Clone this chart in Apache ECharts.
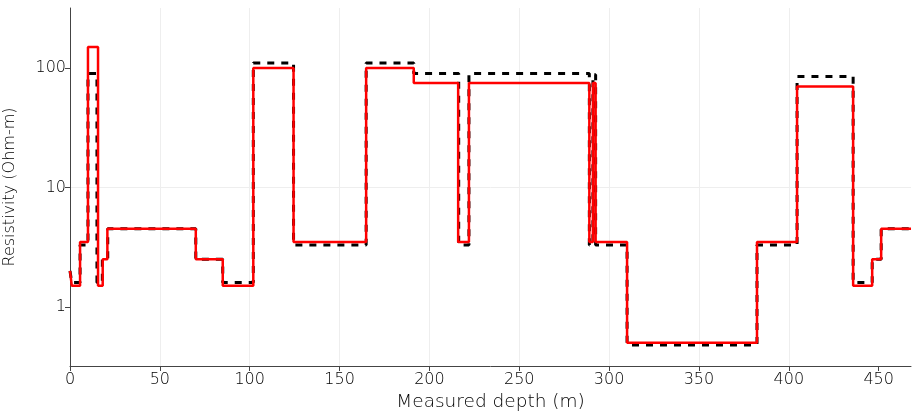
<!DOCTYPE html>
<html><head><meta charset="utf-8">
<script src="https://cdn.jsdelivr.net/npm/echarts@6/dist/echarts.min.js"></script>
<style>html,body{margin:0;padding:0;background:#fff}#c{width:912px;height:412px}</style>
</head><body><div id="c"></div>
<script>
// True model (black dashed): layer top depth (m) and resistivity (Ohm-m)
const trueDepth = [0, 1, 5.6, 10, 15, 18, 21, 70, 85, 102, 124.4, 164.8, 191.3, 216.3, 222, 289, 291, 292.5, 310, 382.3, 404.6, 435.8, 446.4, 451.4, 468];
const trueRes   = [2, 1.6, 3.3, 90, 1.6, 2.5, 4.5, 2.5, 1.6, 110, 3.3, 110, 90, 3.3, 90, 3.3, 88, 3.3, 0.48, 3.3, 85, 1.6, 2.5, 4.5, 4.5];
// Inverted model (red solid)
const invDepth = [0, 1, 5.6, 10, 15.6, 18.2, 20.8, 70, 85, 102, 124.4, 164.8, 191.3, 216, 222, 289, 291, 292.5, 310, 382.3, 404.6, 435.8, 446.4, 451.4, 468];
const invRes   = [2, 1.5, 3.5, 150, 1.5, 2.5, 4.5, 2.5, 1.5, 100, 3.5, 100, 75, 3.5, 75, 3.5, 75, 3.5, 0.5, 3.5, 70, 1.5, 2.5, 4.5, 4.5];
const xTicks = [0, 50, 100, 150, 200, 250, 300, 350, 400, 450];
const yTicks = [1, 10, 100];

const pair = (xs, ys) => xs.map((x, i) => [x, ys[i]]);
const FONT = 'DejaVu Sans';
const chart = echarts.init(document.getElementById('c'), null, {renderer: 'canvas'});
chart.setOption({
  animation: false,
  backgroundColor: '#fff',
  grid: {left: 70, right: 1, top: 8, bottom: 46, containLabel: false, outerBoundsMode: 'none'},
  xAxis: {
    type: 'value', min: 0, max: 468, interval: 50,
    name: 'Measured depth (m)', nameLocation: 'middle', nameGap: 22,
    nameTextStyle: {fontFamily: FONT, fontSize: 18.5, color: '#000', fontWeight: 200},
    axisLine: {show: true, lineStyle: {color: '#444', width: 1}},
    axisTick: {show: true, length: 5, customValues: xTicks, lineStyle: {color: '#444'}},
    axisLabel: {fontFamily: FONT, fontSize: 16, color: '#000', margin: 6, fontWeight: 200,
      customValues: xTicks},
    splitLine: {show: true, showMaxLine: false, lineStyle: {color: '#eeeeee', width: 1}}
  },
  yAxis: {
    type: 'log', logBase: 10, min: 0.32, max: 318,
    name: 'Resistivity (Ohm-m)', nameLocation: 'middle', nameGap: 52, nameRotate: 90,
    nameTextStyle: {fontFamily: FONT, fontSize: 16, color: '#000', fontWeight: 200},
    axisLine: {show: true, lineStyle: {color: '#444', width: 1}},
    axisTick: {show: true, length: 5, customValues: yTicks, lineStyle: {color: '#444'}},
    axisLabel: {fontFamily: FONT, fontSize: 16, color: '#000', margin: 4, fontWeight: 200,
      customValues: yTicks, formatter: v => String(Math.round(v))},
    splitLine: {show: true, showMinLine: false, showMaxLine: false, lineStyle: {color: '#eeeeee', width: 1}}
  },
  series: [
    {type: 'line', step: 'end', data: pair(trueDepth, trueRes), symbol: 'none',
     lineStyle: {color: '#000', width: 3, type: [7, 7]}, z: 2},
    {type: 'line', step: 'end', data: pair(invDepth, invRes), symbol: 'none',
     lineStyle: {color: '#ff0000', width: 2.5}, z: 3}
  ]
});
</script></body></html>
